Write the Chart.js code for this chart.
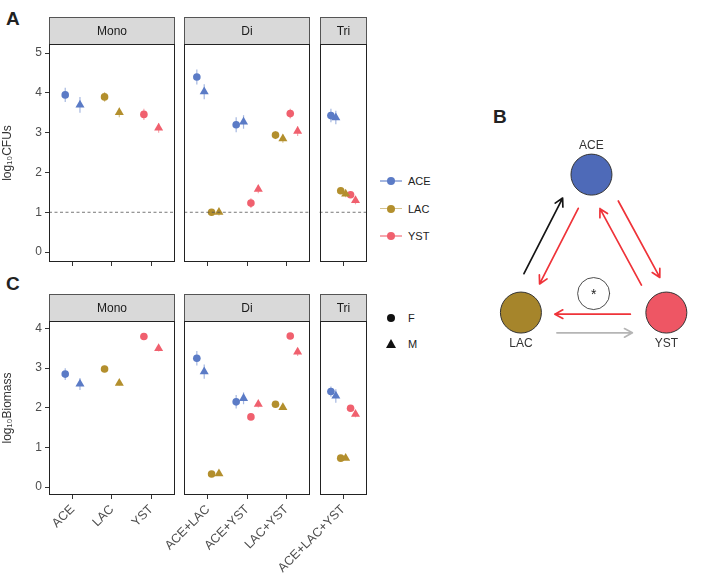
<!DOCTYPE html>
<html lang="en">
<head>
<meta charset="UTF-8">
<title>CFUs, biomass and interactions</title>
<script src="https://cdn.jsdelivr.net/npm/chart.js"></script>
<style>
  body { margin: 0; background: #fff; font-family: "Liberation Sans", Arial, sans-serif; }
  #wrap { position: relative; width: 704px; height: 581px; overflow: hidden; }
  canvas { position: absolute; }
  .letter { position: absolute; font-weight: bold; font-size: 19px; color: #222; line-height: 1; }
  .key { position: absolute; height: 14px; font-size: 11px; color: #222; line-height: 14px; }
  .key .ln { position: absolute; left: 0; top: 6px; width: 22px; height: 1.5px; }
  .key .dot { position: absolute; left: 7px; top: 3px; width: 8px; height: 8px; border-radius: 50%; }
  .key .tri { position: absolute; left: 6px; top: 2px; width: 0; height: 0;
              border-left: 5px solid transparent; border-right: 5px solid transparent; border-bottom: 9px solid #111; }
  .key .txt { position: absolute; left: 28px; top: 0; white-space: nowrap; }
</style>
</head>
<body>
<div id="wrap">
  <div class="letter" style="left:6px; top:9px;">A</div>
  <div class="letter" style="left:6px; top:274px;">C</div>
  <div class="letter" style="left:493px; top:107px;">B</div>
  <canvas id="cfuChart" width="372" height="280" style="left:0; top:0;"></canvas>
  <canvas id="bioChart" width="372" height="301" style="left:0; top:280px;"></canvas>
  <canvas id="netChart" width="224" height="280" style="left:480px; top:100px;"></canvas>
  <div id="legends"></div>
</div>

<script>
// ---- data ----
const species = ['ACE', 'LAC', 'YST'];
const sexes = ['F', 'M'];
const facets = ['Mono', 'Di', 'Tri'];
const facetSize = [3, 3, 1];
const communities = ['ACE', 'LAC', 'YST', 'ACE+LAC', 'ACE+YST', 'LAC+YST', 'ACE+LAC+YST'];
const cfuTicks = [0, 1, 2, 3, 4, 5];
const bioTicks = [0, 1, 2, 3, 4];
const detectionLimit = 1;

// log10 CFUs per community (null = species not in community)
const cfuACE_F = [3.95, null, null, 4.40, 3.20, null, 3.43];
const cfuACE_M = [3.70, null, null, 4.03, 3.27, null, 3.38];
const cfuLAC_F = [null, 3.90, null, 1.00, null, 2.94, 1.54];
const cfuLAC_M = [null, 3.51, null, 1.00, null, 2.85, 1.46];
const cfuYST_F = [null, null, 3.46, null, 1.23, 3.48, 1.44];
const cfuYST_M = [null, null, 3.12, null, 1.58, 3.04, 1.30];
const cfuErrACE_F = [0.18, null, null, 0.19, 0.19, null, 0.17];
const cfuErrACE_M = [0.20, null, null, 0.19, 0.17, null, 0.17];
const cfuErrLAC_F = [null, 0.12, null, 0.08, null, 0.10, 0.08];
const cfuErrLAC_M = [null, 0.12, null, 0.08, null, 0.10, 0.08];
const cfuErrYST_F = [null, null, 0.14, null, 0.12, 0.12, 0.08];
const cfuErrYST_M = [null, null, 0.12, null, 0.10, 0.12, 0.10];

// log10 biomass
const bioACE_F = [2.85, null, null, 3.25, 2.15, null, 2.41];
const bioACE_M = [2.60, null, null, 2.91, 2.24, null, 2.30];
const bioLAC_F = [null, 2.98, null, 0.33, null, 2.09, 0.73];
const bioLAC_M = [null, 2.62, null, 0.34, null, 2.01, 0.73];
const bioYST_F = [null, null, 3.80, null, 1.77, 3.81, 1.99];
const bioYST_M = [null, null, 3.50, null, 2.09, 3.41, 1.84];
const bioErrACE_F = [0.15, null, null, 0.18, 0.17, null, 0.13];
const bioErrACE_M = [0.15, null, null, 0.18, 0.15, null, 0.17];
const bioErrLAC_F = [null, 0.08, null, 0.05, null, 0.06, 0.05];
const bioErrLAC_M = [null, 0.06, null, 0.05, null, 0.06, 0.05];
const bioErrYST_F = [null, null, 0.08, null, 0.08, 0.08, 0.08];
const bioErrYST_M = [null, null, 0.08, null, 0.08, 0.10, 0.08];

// interaction network (panel B)
const nodes = ['ACE', 'LAC', 'YST'];
const nodeX = [-0.03, -1, 1];
const nodeY = [1, 0, 0];
const edgeFrom = ['LAC', 'ACE', 'ACE', 'YST', 'YST', 'LAC'];
const edgeTo   = ['ACE', 'LAC', 'YST', 'ACE', 'LAC', 'YST'];
const edgeType = ['positive', 'negative', 'negative', 'negative', 'negative', 'neutral'];
const edgeMark = [null, null, null, null, '*', null];

// ---- styles ----
const pointColor = { ACE: '#5B7BC6', LAC: '#B38F2D', YST: '#F0606E' };
const errColor = { ACE: 'rgba(91,123,198,0.55)', LAC: 'rgba(179,143,45,0.55)', YST: 'rgba(240,96,110,0.55)' };
const nodeColor = { ACE: '#4E6AB8', LAC: '#A6852B', YST: '#EE5664' };
const edgeColor = { positive: '#151515', negative: '#EF3339', neutral: '#B5B5B5' };
const edgeOffset = [-15, -3.6, -11, -8.8, -1.6, 20.3];
const fontFam = '"Liberation Sans", Arial, sans-serif';

const cfuSeries = { ACE_F: [cfuACE_F, cfuErrACE_F], ACE_M: [cfuACE_M, cfuErrACE_M],
  LAC_F: [cfuLAC_F, cfuErrLAC_F], LAC_M: [cfuLAC_M, cfuErrLAC_M],
  YST_F: [cfuYST_F, cfuErrYST_F], YST_M: [cfuYST_M, cfuErrYST_M] };
const bioSeries = { ACE_F: [bioACE_F, bioErrACE_F], ACE_M: [bioACE_M, bioErrACE_M],
  LAC_F: [bioLAC_F, bioErrLAC_F], LAC_M: [bioLAC_M, bioErrLAC_M],
  YST_F: [bioYST_F, bioErrYST_F], YST_M: [bioYST_M, bioErrYST_M] };

// facet layout on one continuous x scale
const facetRange = [];
const catPos = [];
let pos = 0.4;
facetSize.forEach(n => {
  facetRange.push([pos, pos + n + 0.2]);
  for (let k = 0; k < n; k++) catPos.push(pos + 0.6 + k);
  pos += n + 0.2 + 0.24;
});
const xMin = facetRange[0][0], xMax = facetRange[facetRange.length - 1][1];

function buildDatasets(series) {
  const out = [];
  species.forEach(sp => {
    sexes.forEach(sx => {
      const [vals, errs] = series[sp + '_' + sx];
      const data = [], errors = [];
      vals.forEach((v, i) => {
        if (v === null) return;
        const members = communities[i].split('+');
        const n = members.length * 2;
        const idx = members.indexOf(sp) * 2 + (sx === 'M' ? 1 : 0);
        data.push({ x: catPos[i] - 0.375 + (idx + 0.5) * 0.75 / n, y: v });
        errors.push(errs[i]);
      });
      out.push({
        type: 'scatter', data, errors, errColor: errColor[sp],
        pointStyle: sx === 'F' ? 'circle' : 'triangle',
        pointRadius: sx === 'F' ? 3.8 : 5.2,
        backgroundColor: pointColor[sp], borderWidth: 0
      });
    });
  });
  return out;
}

const errorBars = {
  id: 'errorBars',
  beforeDatasetsDraw(chart) {
    const ctx = chart.ctx, ys = chart.scales.y;
    chart.data.datasets.forEach((ds, i) => {
      if (!ds.errors) return;
      const meta = chart.getDatasetMeta(i);
      ctx.save();
      ctx.strokeStyle = ds.errColor;
      ctx.lineWidth = 1.2;
      meta.data.forEach((pt, j) => {
        const d = ds.data[j], e = ds.errors[j];
        ctx.beginPath();
        ctx.moveTo(pt.x, ys.getPixelForValue(d.y - e));
        ctx.lineTo(pt.x, ys.getPixelForValue(d.y + e));
        ctx.stroke();
      });
      ctx.restore();
    });
  }
};

const facetFrames = {
  id: 'facetFrames',
  afterDraw(chart) {
    const ctx = chart.ctx, xs = chart.scales.x, a = chart.chartArea;
    ctx.save();
    facets.forEach((name, f) => {
      const l = Math.round(xs.getPixelForValue(facetRange[f][0])) + 0.5;
      const r = Math.round(xs.getPixelForValue(facetRange[f][1])) - 0.5;
      const t = Math.round(a.top) + 0.5, b = Math.round(a.bottom) - 0.5;
      ctx.fillStyle = '#D9D9D9';
      ctx.fillRect(l, t - 27, r - l, 27);
      ctx.strokeStyle = '#555';
      ctx.lineWidth = 1;
      ctx.strokeRect(l, t - 27, r - l, 27);
      ctx.strokeStyle = '#222';
      ctx.strokeRect(l, t, r - l, b - t);
      ctx.fillStyle = '#1A1A1A';
      ctx.font = '12px ' + fontFam;
      ctx.textAlign = 'center';
      ctx.textBaseline = 'middle';
      ctx.fillText(name, (l + r) / 2, t - 13);
    });
    ctx.restore();
  }
};

function plotChart(id, series, yTicks, yMin, yMax, yTitle, showX, padTop, xHeight, hline) {
  const datasets = buildDatasets(series);
  if (hline !== null) {
    facetRange.forEach(fr => datasets.unshift({
      type: 'line', data: [{ x: fr[0], y: hline }, { x: fr[1], y: hline }],
      borderColor: '#555', borderWidth: 0.8, borderDash: [3, 2.5], pointRadius: 0
    }));
  }
  return new Chart(document.getElementById(id), {
    type: 'scatter',
    data: { datasets },
    options: {
      responsive: false, animation: false,
      layout: { padding: { top: padTop, left: 0, right: 3, bottom: 0 } },
      plugins: { legend: { display: false }, tooltip: { enabled: false } },
      scales: {
        x: {
          type: 'linear', min: xMin, max: xMax,
          afterBuildTicks: s => { s.ticks = catPos.map(v => ({ value: v })); },
          afterFit: s => { s.height = xHeight; },
          ticks: {
            display: showX, autoSkip: false, maxRotation: 45, minRotation: 45, padding: 3,
            color: '#4D4D4D', font: { size: 12.5, family: fontFam },
            callback: (v, i) => communities[i]
          },
          grid: { drawOnChartArea: false, drawTicks: true, tickLength: 4, color: '#333' },
          border: { display: false }
        },
        y: {
          min: yMin, max: yMax,
          afterBuildTicks: s => { s.ticks = yTicks.map(v => ({ value: v })); },
          afterFit: s => { s.width = 49; },
          ticks: { color: '#4D4D4D', padding: 3, font: { size: 12, family: fontFam } },
          grid: { drawOnChartArea: false, drawTicks: true, tickLength: 4, color: '#333' },
          border: { display: false },
          title: { display: true, text: yTitle, color: '#333', padding: { top: 0, bottom: 0 },
                   font: { size: 12, family: fontFam } }
        }
      }
    },
    plugins: [errorBars, facetFrames]
  });
}

plotChart('cfuChart', cfuSeries, cfuTicks, -0.25, 5.23, 'log₁₀CFUs', false, 44, 18, detectionLimit);
plotChart('bioChart', bioSeries, bioTicks, -0.2, 4.19, 'log₁₀Biomass', true, 41, 86, null);

// ---- panel B: interaction network ----
const netDraw = {
  id: 'netDraw',
  afterDatasetsDraw(chart) {
    const ctx = chart.ctx;
    const pts = chart.getDatasetMeta(0).data;
    const at = name => pts[nodes.indexOf(name)];
    ctx.save();
    ctx.font = '12px ' + fontFam;
    ctx.fillStyle = '#333';
    ctx.textAlign = 'center';
    ctx.textBaseline = 'middle';
    nodes.forEach((n, i) => {
      const p = pts[i];
      ctx.fillText(n, p.x, nodeY[i] > 0 ? p.y - 29 : p.y + 31);
    });
    edgeFrom.forEach((fr, i) => {
      const a = at(fr), b = at(edgeTo[i]);
      const len = Math.hypot(b.x - a.x, b.y - a.y);
      const ux = (b.x - a.x) / len, uy = (b.y - a.y) / len;
      const nx = -uy, ny = ux, o = edgeOffset[i];
      const sx = a.x + ux * 36 + nx * o, sy = a.y + uy * 36 + ny * o;
      const ex = b.x - ux * 34 + nx * o, ey = b.y - uy * 34 + ny * o;
      ctx.strokeStyle = edgeColor[edgeType[i]];
      ctx.lineWidth = 1.7;
      ctx.lineCap = 'round';
      ctx.beginPath();
      ctx.moveTo(sx, sy);
      ctx.lineTo(ex, ey);
      const ang = Math.atan2(uy, ux);
      [-0.5, 0.5].forEach(d => {
        ctx.moveTo(ex, ey);
        ctx.lineTo(ex - 9 * Math.cos(ang + d), ey - 9 * Math.sin(ang + d));
      });
      ctx.stroke();
      if (edgeMark[i]) {
        const mx = (a.x + b.x) / 2 + nx * 19, my = (a.y + b.y) / 2 + ny * 19;
        ctx.beginPath();
        ctx.arc(mx, my, 16, 0, Math.PI * 2);
        ctx.fillStyle = '#fff';
        ctx.fill();
        ctx.strokeStyle = '#222';
        ctx.lineWidth = 0.8;
        ctx.stroke();
        ctx.fillStyle = '#222';
        ctx.font = '14px ' + fontFam;
        ctx.fillText(edgeMark[i], mx, my + 2);
      }
    });
    ctx.restore();
  }
};

new Chart(document.getElementById('netChart'), {
  type: 'scatter',
  data: {
    datasets: [{
      data: nodes.map((n, i) => ({ x: nodeX[i], y: nodeY[i] })),
      backgroundColor: nodes.map(n => nodeColor[n]),
      borderColor: '#333', borderWidth: 1, pointRadius: 20.5, clip: false
    }]
  },
  options: {
    responsive: false, animation: false,
    layout: { padding: 0 },
    plugins: { legend: { display: false }, tooltip: { enabled: false } },
    scales: {
      x: { display: false, min: -1.267, max: 1.222 },
      y: { display: false, min: -0.333, max: 1.385 }
    }
  },
  plugins: [netDraw]
});

// ---- legends ----
const legendBox = document.getElementById('legends');
species.forEach((sp, i) => {
  const d = document.createElement('div');
  d.className = 'key';
  d.style.left = '380px';
  d.style.top = (174 + i * 27.5) + 'px';
  d.innerHTML = '<span class="ln" style="background:' + errColor[sp] + '"></span>' +
    '<span class="dot" style="background:' + pointColor[sp] + '"></span>' +
    '<span class="txt">' + sp + '</span>';
  legendBox.appendChild(d);
});
sexes.forEach((sx, i) => {
  const d = document.createElement('div');
  d.className = 'key';
  d.style.left = '380px';
  d.style.top = (311 + i * 26) + 'px';
  d.innerHTML = (sx === 'F' ? '<span class="dot" style="background:#111"></span>'
                            : '<span class="tri"></span>') +
    '<span class="txt">' + sx + '</span>';
  legendBox.appendChild(d);
});
</script>
</body>
</html>
